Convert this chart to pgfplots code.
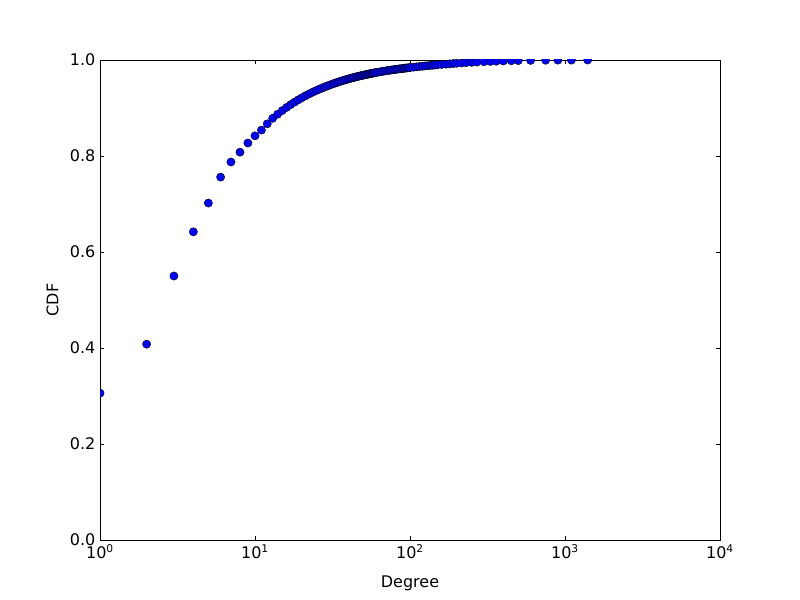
\documentclass[border=0pt]{standalone}
\usepackage{pgfplots}
\pgfplotsset{compat=1.18}
\usepackage{fontspec}
\setmainfont{DejaVu Sans}
\begin{document}
\begin{tikzpicture}
\begin{axis}[
  scale only axis,
  width=465pt, height=360pt,
  xmode=log, xmin=1, xmax=10000,
  ymin=0, ymax=1,
  log basis x=10,
  xtick={1,10,100,1000,10000},
  xticklabels={10\textsuperscript{0},10\textsuperscript{1},10\textsuperscript{2},10\textsuperscript{3},10\textsuperscript{4}},
  ytick={0,0.2,0.4,0.6,0.8,1.0},
  yticklabels={0.0,0.2,0.4,0.6,0.8,1.0},
  tick align=inside,
  major tick length=3pt,
  minor tick length=1.5pt,
  every tick/.style={black, line width=0.5pt},
  tick label style={font=\fontsize{12}{14}\selectfont},
  label style={font=\fontsize{12}{14}\selectfont},
  xlabel={Degree}, ylabel={CDF},
  xlabel style={yshift=-6pt},
  ylabel style={yshift=1.5pt},
  axis line style={line width=0.6pt},
  clip=true,
  clip marker paths=true,
]
\addplot[only marks, mark=*, mark size=3.1pt, mark options={fill=blue, draw=black, line width=0.3pt}] coordinates {
(1,0.306)(2,0.408)(3,0.550)(4,0.642)(5,0.702)(6,0.756)(7,0.7875)(8,0.808)(9,0.827)(10,0.842)
(11,0.854)(12,0.867)(13,0.8785)(14,0.8871)(15,0.8947)(16,0.9012)(17,0.9071)(18,0.9122)(19,0.9168)(20,0.921)
(21,0.9248)(22,0.9282)(23,0.9313)(24,0.9342)(25,0.9368)(26,0.9392)(27,0.9415)(28,0.9436)(29,0.9455)(30,0.9473)
(31,0.9490)(32,0.9506)(33,0.9521)(34,0.9535)(35,0.9549)(36,0.9561)(37,0.9573)(38,0.9584)(39,0.9595)(40,0.9605)
(41,0.9615)(42,0.9624)(43,0.9633)(44,0.9641)(45,0.9649)(46,0.9657)(47,0.9664)(48,0.9671)(49,0.9678)(50,0.9684)
(51,0.9690)(52,0.9696)(53,0.9702)(54,0.9707)(55,0.9713)(56,0.9718)(57,0.9723)(58,0.9728)(59,0.9732)(60,0.9737)
(62,0.9745)(64,0.9753)(66,0.9761)(68,0.9768)(70,0.9774)(72,0.9781)(74,0.9786)(76,0.9792)(78,0.9797)(80,0.9802)
(82,0.9807)(84,0.9812)(86,0.9816)(88,0.9820)(90,0.9824)(92,0.9828)(94,0.9832)(96,0.9835)(98,0.9839)(100,0.9842)
(105,0.9850)(110,0.9857)(115,0.9864)(120,0.9870)(125,0.9876)(130,0.9881)(135,0.9886)(140,0.9891)(145,0.9895)(150,0.9899)
(160,0.9907)(170,0.9914)(180,0.9920)(190,0.9926)(200,0.9931)(215,0.9938)(230,0.9944)(250,0.9951)(270,0.9957)(300,0.9964)
(330,0.9970)(360,0.9975)(400,0.9980)(450,0.9985)(500,0.9988)
(600,0.9992)(750,0.9995)(900,0.9997)(1100,0.9998)
(1400,1.0)
};
\end{axis}
\path (current axis.south west) ++(-75pt,-45pt) rectangle ++(600pt,450pt);
\end{tikzpicture}
\end{document}
